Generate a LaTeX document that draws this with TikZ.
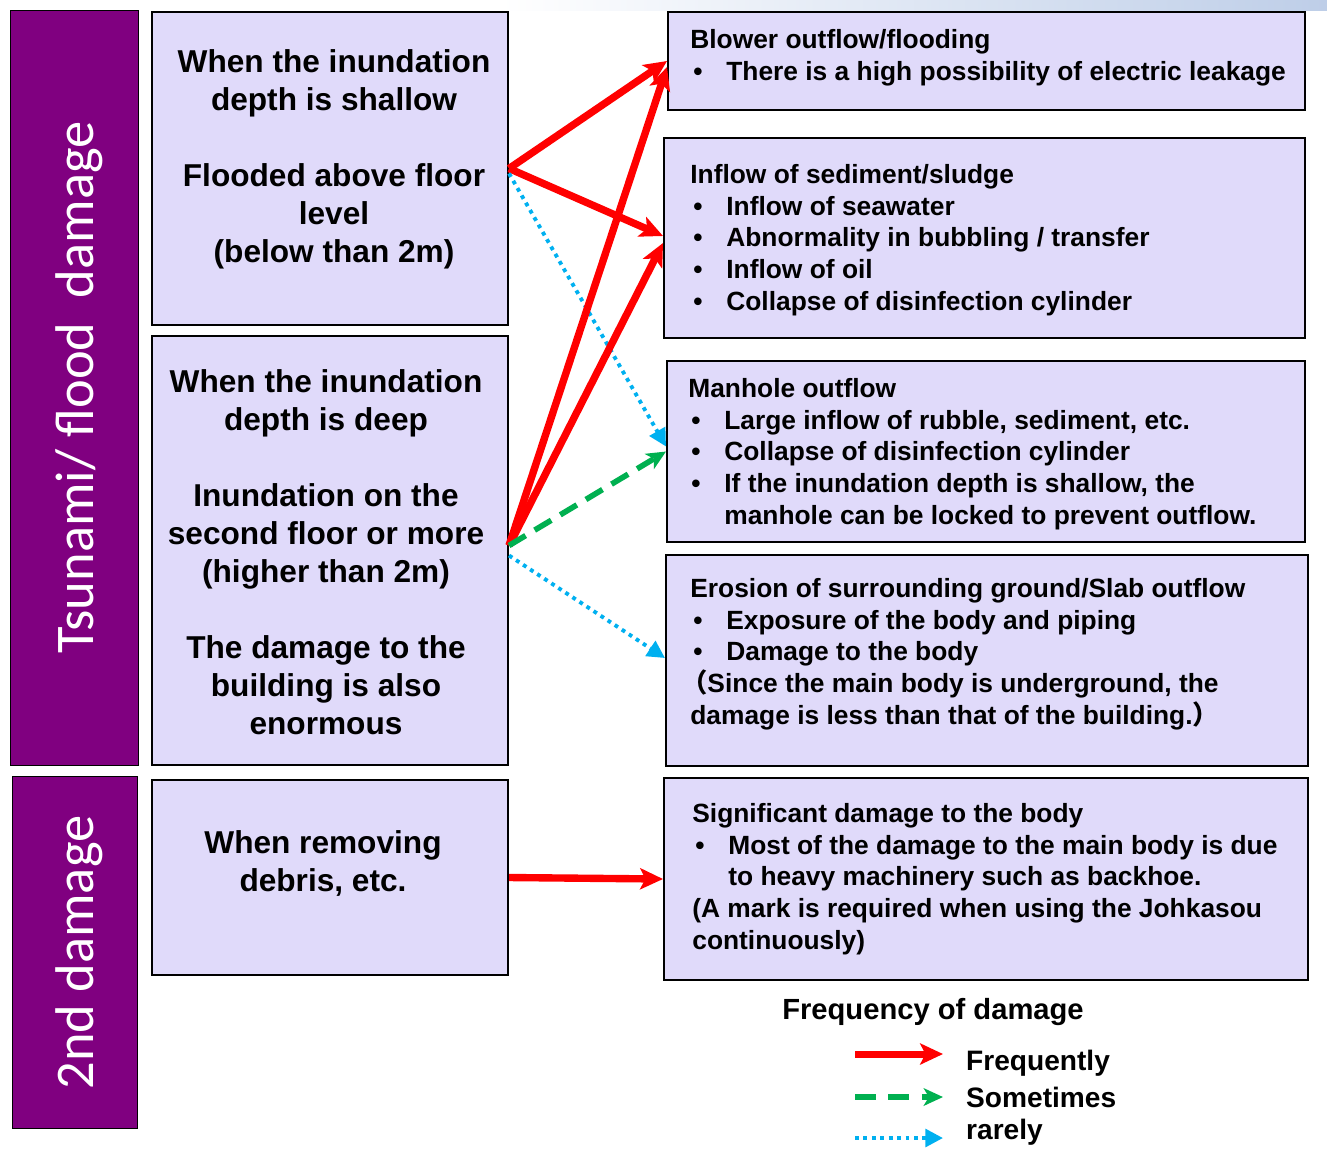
\documentclass[tikz,border=0pt]{standalone}
\usepackage{fontspec}
\setmainfont{Liberation Sans}
\newfontfamily\barfont{Carlito}
\newfontfamily\cjk{Noto Sans CJK JP}
\usetikzlibrary{arrows.meta}

\definecolor{lav}{RGB}{224,218,250}
\definecolor{barpurple}{RGB}{128,0,128}
\definecolor{fred}{RGB}{255,0,0}
\definecolor{sgreen}{RGB}{0,176,80}
\definecolor{rblue}{RGB}{0,176,240}
\definecolor{hdrblue}{RGB}{190,206,232}

% bullet with its indent
\newcommand{\itm}{\makebox[0.72cm][l]{\hspace{0.06cm}•}}
\newcommand{\ind}{\hspace*{0.72cm}}

\begin{document}
\begin{tikzpicture}[x=0.02cm,y=-0.02cm,
  bar/.style={draw=black,fill=barpurple,inner sep=0pt},
  bartext/.style={text=white,rotate=90,inner sep=0pt,font=\barfont\fontsize{31}{36}\selectfont},
  midbox/.style={draw=black,fill=lav,line width=1.2pt,minimum width=7.12cm,inner sep=0pt},
  midtext/.style={align=center,font=\bfseries\fontsize{18}{21.6}\selectfont},
  rbox/.style={draw=black,fill=lav,line width=1.2pt,inner sep=0pt},
  rtext/.style={anchor=west,align=left,inner sep=0pt,font=\bfseries\fontsize{15}{18}\selectfont},
  often/.style={fred,line width=4.2pt,-{Stealth[length=13pt,width=12pt,inset=3pt]}},
  sometimes/.style={sgreen,line width=3.2pt,dash pattern=on 11pt off 6pt,
    -{Stealth[length=11pt,width=10pt,inset=3pt]}},
  rarely/.style={rblue,line width=2.2pt,dash pattern=on 2.2pt off 2.6pt,
    -{Triangle[length=10pt,width=10pt]}},
  legtext/.style={anchor=west,font=\bfseries\fontsize{16}{19}\selectfont}]

\useasboundingbox (0,0) rectangle (1327,1160);
\shade[left color=white,right color=hdrblue] (500,0) rectangle (1327,10);

% left side
\node[bar,minimum width=2.56cm,minimum height=15.1cm] (tsunami) at (74,387.5) {};
\node[bartext] (tsunamitxt) at (79,387.5) {Tsunami/ flood\ \ damage};
\node[bar,minimum width=2.5cm,minimum height=7.04cm] (second) at (74.5,952) {};
\node[bartext] (secondtxt) at (79,952.5) {2nd damage};

\node[midbox,minimum height=6.26cm] (shallow) at (330,168.5) {};
\node[midtext] (shallowtxt) at (334,159) {When the inundation\\depth is shallow\\[21.6pt]Flooded above floor\\level\\(below than 2m)};

\node[midbox,minimum height=8.58cm] (deep) at (330,550.5) {};
\node[midtext] (deeptxt) at (326,552) {When the inundation\\depth is deep\\[21.6pt]Inundation on the\\second floor or more\\(higher than 2m)\\[21.6pt]The damage to the\\building is also\\enormous};

\node[midbox,minimum height=3.9cm] (debris) at (330,877.5) {};
\node[midtext] (debristxt) at (323,863) {When removing\\debris, etc.};

% right side
\node[rbox,minimum width=12.74cm,minimum height=1.96cm] (blower) at (986.5,61) {};
\node[rtext] (blowertxt) at (690,58)
  {Blower outflow/flooding\\\itm There is a high possibility of electric leakage};
\node[rbox,minimum width=12.82cm,minimum height=4.0cm] (sludge) at (984.5,238) {};
\node[rtext] (sludgetxt) at (690,240)
  {Inflow of sediment/sludge\\\itm Inflow of seawater\\\itm Abnormality in bubbling / transfer\\\itm Inflow of oil\\\itm Collapse of disinfection cylinder};
\node[rbox,minimum width=12.76cm,minimum height=3.62cm] (manhole) at (986,451.5) {};
\node[rtext] (manholetxt) at (688,454)
  {Manhole outflow\\\itm Large inflow of rubble, sediment, etc.\\\itm Collapse of disinfection cylinder\\\itm If the inundation depth is shallow, the\\\ind manhole can be locked to prevent outflow.};
\node[rbox,minimum width=12.84cm,minimum height=4.22cm] (erosion) at (987,660.5) {};
\node[rtext] (erosiontxt) at (690,654)
  {Erosion of surrounding ground/Slab outflow\\\itm Exposure of the body and piping\\\itm Damage to the body\\{\cjk\hspace{-0.35em}（}Since the main body is underground, the\\damage is less than that of the building.{\cjk ）}};
\node[rbox,minimum width=12.88cm,minimum height=4.04cm] (body) at (986,879) {};
\node[rtext] (bodytxt) at (692,879)
  {Significant damage to the body\\\itm Most of the damage to the main body is due\\\ind to heavy machinery such as backhoe.\\(A mark is required when using the Johkasou\\continuously)};

% arrows
\draw[often] (shallow.east) -- (blower.west);
\draw[often] (shallow.east) -- ([yshift=0.04cm]sludge.west);
\draw[rarely] ([yshift=-0.1cm]shallow.east) -- ([yshift=0.1cm]manhole.west);
\draw[often] ([yshift=0.1cm]deep.east) -- ([yshift=-0.12cm]blower.west);
\draw[often] ([yshift=0.1cm]deep.east) -- ([yshift=-0.1cm]sludge.west);
\draw[sometimes] ([yshift=0.1cm]deep.east) -- (manhole.west);
\draw[rarely] ([yshift=-0.1cm]deep.east) -- ([yshift=0.05cm]erosion.west);
\draw[often] (debris.east) -- (body.west);

% legend
\node[font=\bfseries\fontsize{16.6}{19}\selectfont] (freq) at (933,1012) {Frequency of damage};
\coordinate (o1) at (855,1054); \coordinate (o2) at (943,1054);
\coordinate (s1) at (855,1097); \coordinate (s2) at (943,1097);
\coordinate (r1) at (855,1138); \coordinate (r2) at (943,1138);
\draw[often,line width=4pt] (o1) -- (o2);
\draw[sometimes,dash pattern=on 12pt off 7pt] (s1) -- (s2);
\draw[rarely] (r1) -- (r2);
\node[legtext] (oftentxt) at (960,1063) {Frequently};
\node[legtext] (sometxt) at (960,1097) {Sometimes};
\node[legtext] (raretxt) at (960,1132) {rarely};
\end{tikzpicture}
\end{document}
